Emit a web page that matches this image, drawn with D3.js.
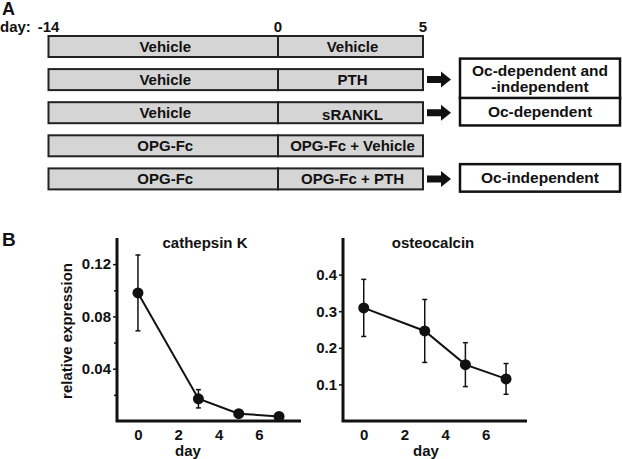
<!DOCTYPE html>
<html>
<head>
<meta charset="utf-8">
<script src="https://cdn.jsdelivr.net/npm/d3@7"></script>
<style>
  body { margin: 0; background: #fff; }
  svg text { font-family: "Liberation Sans", Arial, sans-serif; font-weight: bold; fill: #111; }
</style>
</head>
<body>
<svg width="622" height="459"></svg>
<script>
// panel A - treatment schedule
var timeTicks = [-14, 0, 5];
var rowIds = ["r1", "r2", "r3", "r4", "r5"];
var phase1 = ["Vehicle", "Vehicle", "Vehicle", "OPG-Fc", "OPG-Fc"];
var phase2 = ["Vehicle", "PTH", "sRANKL", "OPG-Fc + Vehicle", "OPG-Fc + PTH"];
var outcomes = [null, ["Oc-dependent and", "-independent"], ["Oc-dependent"], null, ["Oc-independent"]];

// panel B - time course
var days = [0, 3, 5, 7];
var ctskMean = [0.098, 0.017, 0.0056, 0.0035];
var ctskErr = [0.029, 0.007, 0.0015, 0.001];
var ocnMean = [0.309, 0.246, 0.154, 0.115];
var ocnErr = [0.078, 0.086, 0.060, 0.042];
var ctskTicks = [0.04, 0.08, 0.12];
var ctskMinor = [0.02, 0.06, 0.10];
var ocnTicks = [0.1, 0.2, 0.3, 0.4];
var xTicks = [0, 2, 4, 6];

var svg = d3.select("svg");
var ink = "#111";

// ---------- A ----------
svg.append("text").attr("x", 2).attr("y", 14.5).style("font-size", "18px").text("A");
svg.append("text").attr("x", 0).attr("y", 32).style("font-size", "15px").text("day:");

var t = d3.scaleLinear().domain(timeTicks).range([48.5, 278, 423]);
var row = d3.scaleBand().domain(rowIds).range([36, 189.4]).paddingInner(0.3656);

svg.selectAll(".tlab").data(timeTicks).enter().append("text")
    .attr("x", function(d) { return t(d); })
    .attr("y", 32)
    .attr("text-anchor", "middle")
    .style("font-size", "15px")
    .text(function(d) { return d; });

var rows = svg.selectAll(".row").data(rowIds).enter().append("g")
    .attr("transform", function(d) { return "translate(0," + row(d) + ")"; });

rows.append("rect")
    .attr("x", t(-14)).attr("y", 0)
    .attr("width", t(0) - t(-14)).attr("height", row.bandwidth())
    .attr("fill", "#d5d5d5").attr("stroke", "#222").attr("stroke-width", 2);
rows.append("rect")
    .attr("x", t(0)).attr("y", 0)
    .attr("width", t(5) - t(0)).attr("height", row.bandwidth())
    .attr("fill", "#d5d5d5").attr("stroke", "#222").attr("stroke-width", 2);

rows.append("text")
    .attr("x", (t(-14) + t(0)) / 2 + 2)
    .attr("y", row.bandwidth() / 2).attr("dy", "0.36em")
    .attr("text-anchor", "middle").style("font-size", "15px")
    .text(function(d, i) { return phase1[i]; });
rows.append("text")
    .attr("x", (t(0) + t(5)) / 2 + 2)
    .attr("y", function(d, i) { return row.bandwidth() / 2 + (i == 2 ? 2 : 0); }).attr("dy", "0.36em")
    .attr("text-anchor", "middle").style("font-size", "15px")
    .text(function(d, i) { return phase2[i]; });

// arrows + outcome boxes
rows.each(function(d, i) {
    var lines = outcomes[i];
    if (!lines) return;
    var g = d3.select(this);
    var cy = row.bandwidth() / 2;
    var p = d3.path();
    p.moveTo(427, cy - 3.5);
    p.lineTo(441, cy - 3.5);
    p.lineTo(441, cy - 8);
    p.lineTo(451, cy);
    p.lineTo(441, cy + 8);
    p.lineTo(441, cy + 3.5);
    p.lineTo(427, cy + 3.5);
    p.closePath();
    g.append("path").attr("d", p.toString()).attr("fill", ink);

    var h = lines.length > 1 ? 40 : 27.5;
    g.append("rect")
        .attr("x", 460).attr("y", cy - 1 - h / 2)
        .attr("width", 160).attr("height", h)
        .attr("fill", "#fff").attr("stroke", ink).attr("stroke-width", 2.5);
    g.selectAll(".ol").data(lines).enter().append("text")
        .attr("x", 540)
        .attr("y", function(l, j) { return cy - 1 + (j - (lines.length - 1) / 2) * 16.5; })
        .attr("dy", "0.36em")
        .attr("text-anchor", "middle").style("font-size", "15.5px")
        .text(function(l) { return l; });
});

// ---------- B ----------
svg.append("text").attr("x", 2).attr("y", 246).style("font-size", "19px").text("B");

function panel(opt) {
    var x = d3.scaleLinear().domain(opt.xDomain).range(opt.xRange);
    var y = d3.scaleLinear().domain(opt.yDomain).range([421, 238]);
    var g = svg.append("g");

    g.append("g")
        .attr("transform", "translate(" + opt.xRange[0] + ",0)")
        .call(d3.axisLeft(y).tickValues(opt.yTicks).tickFormat(d3.format(opt.fmt)).tickSize(4).tickSizeOuter(0).tickPadding(2));
    if (opt.yMinor) {
        g.append("g")
            .attr("transform", "translate(" + opt.xRange[0] + ",0)")
            .call(d3.axisLeft(y).tickValues(opt.yMinor).tickFormat("").tickSize(3).tickSizeOuter(0))
            .select(".domain").remove();
    }
    g.append("g")
        .attr("transform", "translate(0,421)")
        .call(d3.axisBottom(x).tickValues(xTicks).tickSize(0).tickSizeOuter(0).tickPadding(8.5));

    g.selectAll(".tick line").attr("stroke", ink).attr("stroke-width", 1.5);
    g.selectAll(".tick text").attr("fill", ink).style("font-size", "15px")
        .style("font-family", "'Liberation Sans', Arial, sans-serif").style("font-weight", "bold");
    // axis lines meet at the corner
    g.selectAll(".domain").remove();
    g.append("path")
        .attr("d", "M" + opt.xRange[0] + "," + y.range()[1] + "V" + y(0) + "H" + opt.xRange[1])
        .attr("fill", "none").attr("stroke", ink).attr("stroke-width", 3);

    g.append("text")
        .attr("x", opt.titleX).attr("y", 248)
        .attr("text-anchor", "middle").style("font-size", "15px")
        .text(opt.title);
    g.append("text")
        .attr("x", (opt.xRange[0] + opt.xRange[1]) / 2 + opt.dayShift).attr("y", 456)
        .attr("text-anchor", "middle").style("font-size", "15px")
        .text("day");
    if (opt.yLabel) {
        g.append("text")
            .attr("transform", "translate(72,331) rotate(-90)")
            .attr("text-anchor", "middle").style("font-size", "15px")
            .text(opt.yLabel);
    }

    var pts = days.map(function(d, i) { return {day: d, m: opt.mean[i], e: opt.err[i]}; });

    var bars = g.selectAll(".eb").data(pts).enter().append("g");
    bars.append("line")
        .attr("x1", function(d) { return x(d.day); }).attr("x2", function(d) { return x(d.day); })
        .attr("y1", function(d) { return y(d.m - d.e); }).attr("y2", function(d) { return y(d.m + d.e); })
        .attr("stroke", ink).attr("stroke-width", 1.5);
    [-1, 1].forEach(function(s) {
        bars.append("line")
            .attr("x1", function(d) { return x(d.day) - 2.5; }).attr("x2", function(d) { return x(d.day) + 2.5; })
            .attr("y1", function(d) { return y(d.m + s * d.e); }).attr("y2", function(d) { return y(d.m + s * d.e); })
            .attr("stroke", ink).attr("stroke-width", 1.5);
    });

    g.append("path").datum(pts)
        .attr("fill", "none").attr("stroke", ink).attr("stroke-width", 2)
        .attr("d", d3.line().x(function(d) { return x(d.day); }).y(function(d) { return y(d.m); }));

    g.selectAll(".dot").data(pts).enter().append("circle")
        .attr("cx", function(d) { return x(d.day); })
        .attr("cy", function(d) { return y(d.m); })
        .attr("r", 5.5).attr("fill", ink);
}

panel({
    xDomain: [-1.04, 8.09], xRange: [117, 301], yDomain: [0, 0.14],
    yTicks: ctskTicks, yMinor: ctskMinor, fmt: ".2f",
    mean: ctskMean, err: ctskErr, title: "cathepsin K", titleX: 205,
    yLabel: "relative expression", dayShift: -21
});
panel({
    xDomain: [-1.02, 8.03], xRange: [343, 527], yDomain: [0, 0.5],
    yTicks: ocnTicks, yMinor: null, fmt: ".1f",
    mean: ocnMean, err: ocnErr, title: "osteocalcin", titleX: 433,
    yLabel: null, dayShift: -9
});
</script>
</body>
</html>
